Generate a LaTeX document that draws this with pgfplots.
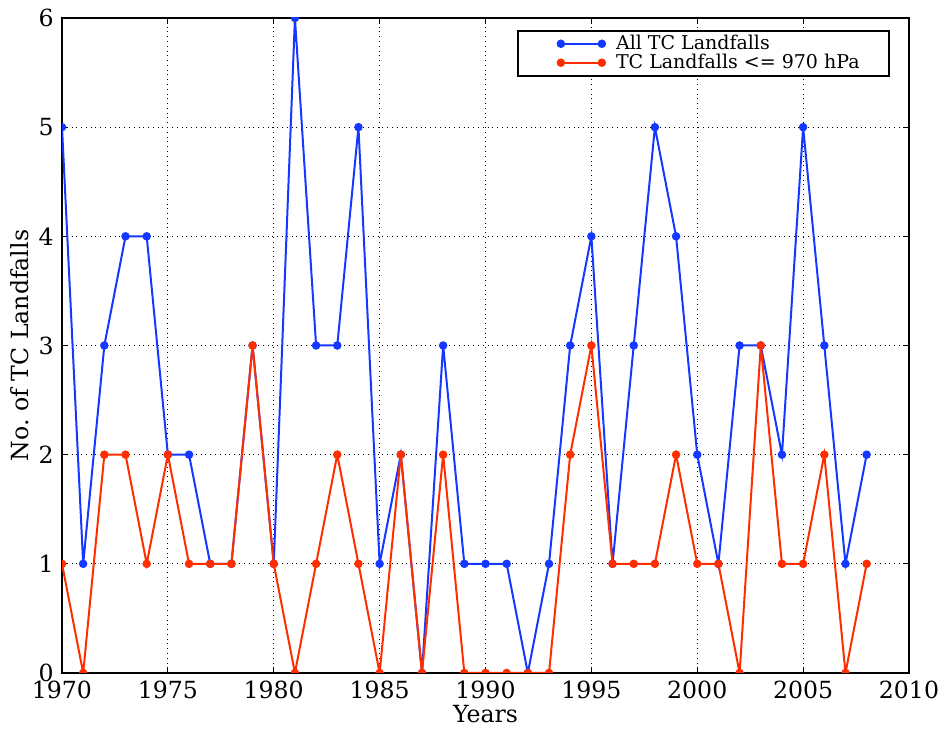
\documentclass[border=0pt]{standalone}
\usepackage{pgfplots}
\pgfplotsset{compat=1.18}
\usepackage{fontspec}
\setmainfont{DejaVu Serif}

\definecolor{tcblue}{rgb}{0.08,0.22,1}
\definecolor{tcred}{rgb}{1,0.18,0}

\begin{document}
\fontsize{11.8bp}{14bp}\selectfont
\begin{tikzpicture}
\begin{axis}[
  name=ax,
  scale only axis,
  width=423.5bp, height=327.5bp,
  xmin=1970, xmax=2010,
  ymin=0, ymax=6,
  xtick={1970,1975,...,2010},
  ytick={0,1,...,6},
  /pgf/number format/1000 sep={},
  /pgf/number format/assume math mode=true,
  xlabel={Years},
  ylabel={No.\ of TC Landfalls},
  xlabel style={yshift=5bp},
  ylabel style={yshift=-3bp},
  axis line style={line width=1bp},
  tick align=inside,
  major tick length=3bp,
  tick style={black, line width=0.6bp},
  grid=major,
  grid style={black, dotted, line width=0.6bp},
  clip marker paths=true,
  legend cell align=left,
  legend style={at={(0.9776,0.982)}, anchor=north east, draw=black,
    line width=1bp, inner xsep=20bp, inner ysep=0bp, row sep=-3.5bp,
    font=\fontsize{9.5bp}{11bp}\selectfont},
  legend image code/.code={\draw plot coordinates {(0bp,0bp)(20.5bp,0bp)};},
  every axis plot/.append style={line width=1bp, mark=*, mark size=1.6bp},
]
\addplot[tcblue, mark options={fill=tcblue, draw=tcblue}] coordinates {
  (1970,5)(1971,1)(1972,3)(1973,4)(1974,4)(1975,2)(1976,2)(1977,1)(1978,1)(1979,3)
  (1980,1)(1981,6)(1982,3)(1983,3)(1984,5)(1985,1)(1986,2)(1987,0)(1988,3)(1989,1)
  (1990,1)(1991,1)(1992,0)(1993,1)(1994,3)(1995,4)(1996,1)(1997,3)(1998,5)(1999,4)
  (2000,2)(2001,1)(2002,3)(2003,3)(2004,2)(2005,5)(2006,3)(2007,1)(2008,2)
};
\addplot[tcred, mark options={fill=tcred, draw=tcred}] coordinates {
  (1970,1)(1971,0)(1972,2)(1973,2)(1974,1)(1975,2)(1976,1)(1977,1)(1978,1)(1979,3)
  (1980,1)(1981,0)(1982,1)(1983,2)(1984,1)(1985,0)(1986,2)(1987,0)(1988,2)(1989,0)
  (1990,0)(1991,0)(1992,0)(1993,0)(1994,2)(1995,3)(1996,1)(1997,1)(1998,1)(1999,2)
  (2000,1)(2001,1)(2002,0)(2003,3)(2004,1)(2005,1)(2006,2)(2007,0)(2008,1)
};
\legend{\makebox[118bp][l]{\hspace{3.5bp}All TC Landfalls}, \makebox[118bp][l]{\hspace{3.5bp}TC Landfalls <= 970 hPa}}
\end{axis}
\pgfresetboundingbox
\path[use as bounding box] ([shift={(-31bp,-28bp)}]ax.south west) rectangle ([shift={(18.5bp,9bp)}]ax.north east);
\end{tikzpicture}
\end{document}
